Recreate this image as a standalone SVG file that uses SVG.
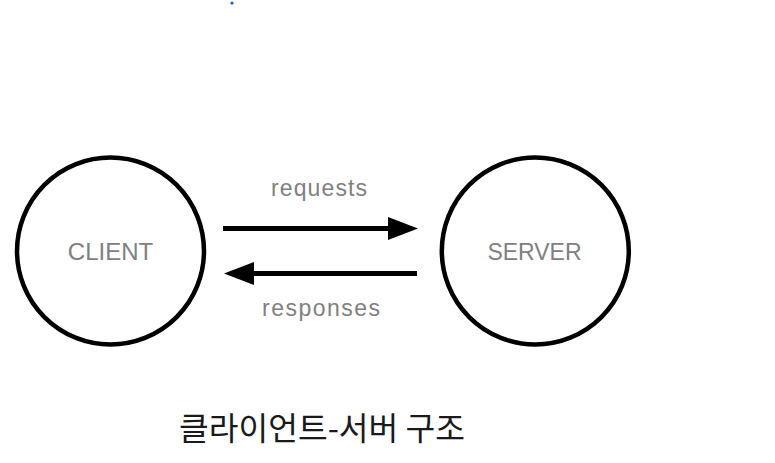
<svg xmlns="http://www.w3.org/2000/svg" width="775" height="463" viewBox="0 0 775 463">
<style>
.node circle{fill:none;stroke:#000;stroke-width:4.5}
.lbl{font-family:"Liberation Sans",Arial,sans-serif;fill:#808080;text-anchor:middle}
.conn{stroke:#000;stroke-width:5;fill:none}
.title{font-family:"Noto Sans CJK KR","Noto Sans",sans-serif;fill:#1a1a1a;font-size:32px}
</style>
<defs>
<marker id="ah" markerUnits="userSpaceOnUse" markerWidth="31" markerHeight="24" refX="0" refY="11.5" orient="auto">
<path d="M0,0 L30,11.5 L0,23 Z" fill="#000"/>
</marker>
</defs>
<rect width="775" height="463" fill="#fff"/>
<circle cx="232" cy="3" r="1.6" fill="#1a56e0"/>
<g id="client" class="node">
<circle cx="110.5" cy="251" r="93.5"/>
<text class="lbl" x="110.5" y="260" font-size="24">CLIENT</text>
</g>
<g id="server" class="node">
<circle cx="535.3" cy="251" r="93.5"/>
<text class="lbl" x="534.5" y="260" font-size="23">SERVER</text>
</g>
<g id="connectors">
<line class="conn" x1="223" y1="228.5" x2="388" y2="228.5" marker-end="url(#ah)"/>
<line class="conn" x1="417" y1="273.5" x2="254" y2="273.5" marker-end="url(#ah)"/>
<text class="lbl" x="319" y="196" font-size="23" textLength="96" lengthAdjust="spacing">requests</text>
<text class="lbl" x="321" y="316" font-size="23" textLength="118" lengthAdjust="spacing">responses</text>
</g>
<text class="title" x="179" y="440" textLength="286" lengthAdjust="spacingAndGlyphs">클라이언트-서버 구조</text>
</svg>
